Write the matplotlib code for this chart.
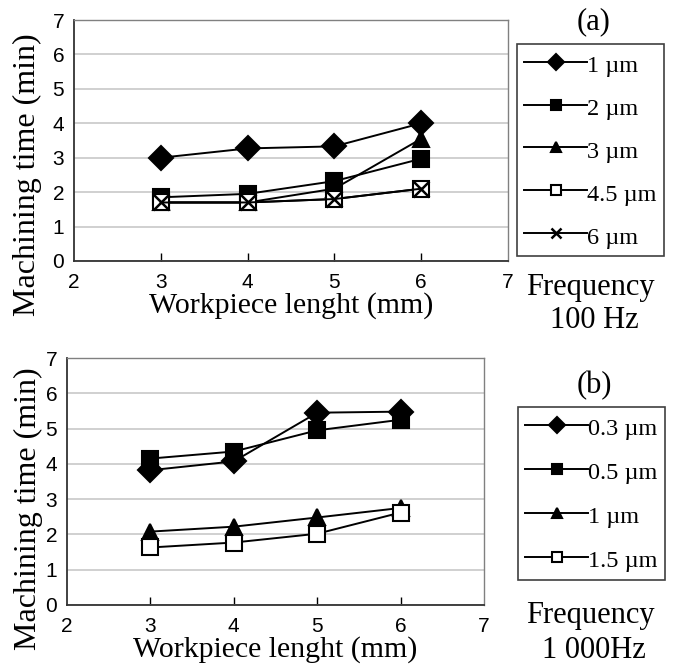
import matplotlib
matplotlib.use("Agg")
import matplotlib.pyplot as plt

# workpiece lengths (mm)
lengths = [3, 4, 5, 6]

# (a) 100 Hz, machining time (min) per layer thickness
labels_a = ["1 µm", "2 µm", "3 µm", "4.5 µm", "6 µm"]
time_a_1 = [3.0, 3.27, 3.33, 4.0]
time_a_2 = [1.85, 1.95, 2.32, 2.97]
time_a_3 = [1.7, 1.7, 2.1, 3.55]
time_a_45 = [1.7, 1.7, 1.8, 2.1]
time_a_6 = [1.7, 1.7, 1.8, 2.1]

# (b) 1 000 Hz
labels_b = ["0.3 µm", "0.5 µm", "1 µm", "1.5 µm"]
time_b_03 = [3.82, 4.07, 5.45, 5.48]
time_b_05 = [4.15, 4.35, 4.95, 5.25]
time_b_1 = [2.08, 2.22, 2.48, 2.75]
time_b_15 = [1.63, 1.77, 2.02, 2.62]

serif = "Liberation Serif"
sans = "Liberation Sans"

styles_a = [("D", "k"), ("s", "k"), ("^", "k"), ("s", "w"), ("x", "k")]
styles_b = [("D", "k"), ("s", "k"), ("^", "k"), ("s", "w")]

fig = plt.figure(figsize=(6.78, 6.71), dpi=100)


def draw(ax, series, labels, styles, ylab_xy):
    for y, lab, (m, fc) in zip(series, labels, styles):
        ms = {"x": 12, "D": 12, "s": 11.5, "^": 11.5}[m]
        ax.plot(lengths, y, color="k", lw=1.4, marker=m, markersize=ms,
                markerfacecolor=fc, markeredgecolor="k",
                markeredgewidth=1.5 if m != "x" else 1.8, label=lab)
    ax.set_xlim(2, 7)
    ax.set_ylim(0, 7)
    ax.set_yticks(range(0, 8))
    ax.set_xticks(range(2, 8))
    # no tick marks at the ends of the x axis
    for i in (0, -1):
        ax.xaxis.get_major_ticks()[i].tick1line.set_visible(False)
    ax.yaxis.grid(True, color="#c8c8c8", lw=1.2)
    ax.set_axisbelow(True)
    for s in ("top", "right"):
        ax.spines[s].set_color("#808080")
        ax.spines[s].set_linewidth(1.0)
    for s in ("left", "bottom"):
        ax.spines[s].set_color("#333333")
        ax.spines[s].set_linewidth(1.3)
    ax.tick_params(axis="y", length=0, pad=7, labelsize=15)
    ax.tick_params(axis="x", direction="in", length=6, width=1, pad=9,
                   labelsize=15)
    for t in ax.get_xticklabels() + ax.get_yticklabels():
        t.set_fontfamily(sans)
    ax.set_ylabel("Machining time (min)", fontfamily=serif, fontsize=23)
    ax.yaxis.set_label_coords(*ylab_xy)
    ax.set_xlabel("Workpiece lenght (mm)", fontfamily=serif, fontsize=21.5,
                  labelpad=0)


def legend(ax, anchor, spacing):
    leg = ax.legend(loc="upper left", bbox_to_anchor=anchor,
                    bbox_transform=fig.transFigure, frameon=True,
                    fancybox=False, edgecolor="#404040", framealpha=1,
                    prop={"family": serif, "size": 17.5}, markerscale=0.65,
                    handlelength=2.6, handleheight=1.2, handletextpad=0.0,
                    labelspacing=spacing, borderpad=0.3, borderaxespad=0)
    leg.get_frame().set_linewidth(1.2)
    return leg


ax1 = fig.add_axes([74 / 678, 1 - 261 / 671, 434 / 678, 241 / 671])
draw(ax1, [time_a_1, time_a_2, time_a_3, time_a_45, time_a_6], labels_a,
     styles_a, (-0.073, 0.36))
legend(ax1, (517 / 678, 1 - 44 / 671), 0.71)

ax2 = fig.add_axes([67 / 678, 1 - 605 / 671, 417 / 678, 247 / 671])
draw(ax2, [time_b_03, time_b_05, time_b_1, time_b_15], labels_b, styles_b,
     (-0.058, 0.39))
legend(ax2, (518 / 678, 1 - 407 / 671), 0.76)

txt = dict(ha="center", va="center", fontfamily=serif, fontsize=22)
fig.text(594 / 678, 1 - 22 / 671, "(a)", **txt)
fig.text(590 / 678, 1 - 288 / 671, "Frequency", **txt)
fig.text(594 / 678, 1 - 321 / 671, "100 Hz", **txt)
fig.text(594 / 678, 1 - 386 / 671, "(b)", **txt)
fig.text(590 / 678, 1 - 616 / 671, "Frequency", **txt)
fig.text(594 / 678, 1 - 650 / 671, "1 000Hz", **txt)

fig.savefig("out.png", dpi=100)
